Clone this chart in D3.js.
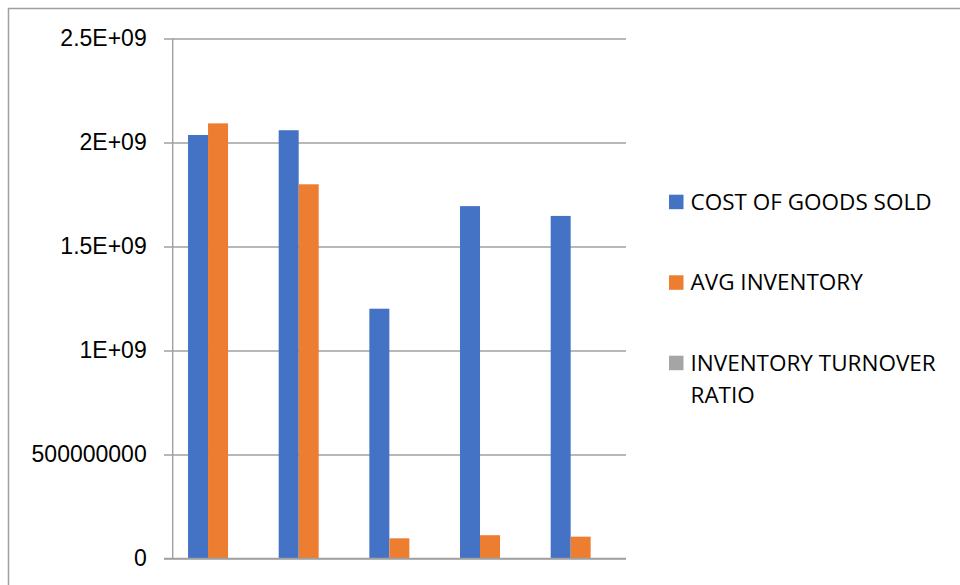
<!DOCTYPE html>
<html>
<head>
<meta charset="utf-8">
<script src="https://cdn.jsdelivr.net/npm/d3@7"></script>
<style>
  body { margin: 0; background: #fff; }
  svg { display: block; font-family: "Open Sans", sans-serif; }
</style>
</head>
<body>
<svg id="chart" width="960" height="585"></svg>
<script>
// data (no category labels are shown)
var categories = ["A", "B", "C", "D", "E"];
var seriesNames = ["COST OF GOODS SOLD", "AVG INVENTORY", "INVENTORY TURNOVER RATIO"];
var costOfGoodsSold = [2.036e9, 2.059e9, 1.201e9, 1.694e9, 1.647e9];
var avgInventory = [2.092e9, 1.799e9, 0.097e9, 0.112e9, 0.105e9];
var turnoverRatio = [0.97, 1.14, 12.4, 15.1, 15.7];
var yTicks = [0, 5e8, 1e9, 1.5e9, 2e9, 2.5e9];
var yTickLabels = ["0", "500000000", "1E+09", "1.5E+09", "2E+09", "2.5E+09"];
var colors = ["#4472C4", "#ED7D31", "#A5A5A5"];

var allSeries = [costOfGoodsSold, avgInventory, turnoverRatio];

var svg = d3.select("#chart");

// chart area border (top + left visible)
svg.append("path")
    .attr("d", "M8.5,600 L8.5,8.5 L970,8.5")
    .attr("fill", "none")
    .attr("stroke", "#a0a0a0")
    .attr("stroke-width", 1.5);

var plot = { left: 172.7, right: 626, top: 38.5, bottom: 558.5 };

var y = d3.scaleLinear().domain([0, 2.5e9]).range([plot.bottom, plot.top]);
var x0 = d3.scaleBand().domain(categories).range([plot.left, plot.right]).padding(0);
var x1 = d3.scaleBand().domain(d3.range(seriesNames.length))
    .range([0, x0.bandwidth()]).paddingInner(0).paddingOuter(0.767);

// gridlines + tick labels via the axis
var yAxis = d3.axisLeft(y)
    .tickValues(yTicks)
    .tickSize(-(plot.right - plot.left))
    .tickPadding(26)
    .tickFormat(function(d, i) { return yTickLabels[i]; });

var gy = svg.append("g")
    .attr("transform", "translate(" + plot.left + ",0)")
    .call(yAxis);
gy.select(".domain").remove();
gy.selectAll(".tick line")
    .attr("x1", -8.7)
    .attr("stroke", "#a0a0a0")
    .attr("stroke-width", 1.4);
gy.selectAll(".tick text")
    .attr("fill", "#000")
    .style("font-size", "23px");

// vertical axis line
svg.append("line")
    .attr("x1", plot.left).attr("x2", plot.left)
    .attr("y1", plot.top).attr("y2", plot.bottom)
    .attr("stroke", "#a0a0a0")
    .attr("stroke-width", 1.4);

// bars
var groups = svg.selectAll(".group")
    .data(categories)
    .enter().append("g")
    .attr("class", "group")
    .attr("transform", function(d) { return "translate(" + x0(d) + ",0)"; });

groups.selectAll("rect")
    .data(function(d, ci) { return allSeries.map(function(s, si) { return { si: si, v: s[ci] }; }); })
    .enter().append("rect")
    .attr("x", function(d) { return x1(d.si); })
    .attr("width", x1.bandwidth())
    .attr("y", function(d) { return y(d.v); })
    .attr("height", function(d) { return y(0) - y(d.v); })
    .attr("fill", function(d) { return colors[d.si]; });

// redraw baseline over bars
svg.append("line")
    .attr("x1", plot.left - 8.7).attr("x2", plot.right)
    .attr("y1", plot.bottom).attr("y2", plot.bottom)
    .attr("stroke", "#a0a0a0")
    .attr("stroke-width", 1.4);

// legend
var legendRows = [
    { lines: ["COST OF GOODS SOLD"], y: 201.7 },
    { lines: ["AVG INVENTORY"], y: 282.3 },
    { lines: ["INVENTORY TURNOVER", "RATIO"], y: 362.7 }
];

var legend = svg.selectAll(".legend")
    .data(legendRows)
    .enter().append("g")
    .attr("class", "legend");

legend.append("rect")
    .attr("x", 669)
    .attr("y", function(d) { return d.y - 7; })
    .attr("width", 14.5)
    .attr("height", 14.5)
    .attr("fill", function(d, i) { return colors[i]; });

legend.each(function(d) {
    var g = d3.select(this);
    d.lines.forEach(function(line, li) {
        g.append("text")
            .attr("x", 690.5)
            .attr("y", d.y + li * 32.3)
            .attr("dy", "0.36em")
            .attr("fill", "#000")
            .style("font-size", "22.5px")
            .text(line);
    });
});
</script>
</body>
</html>
